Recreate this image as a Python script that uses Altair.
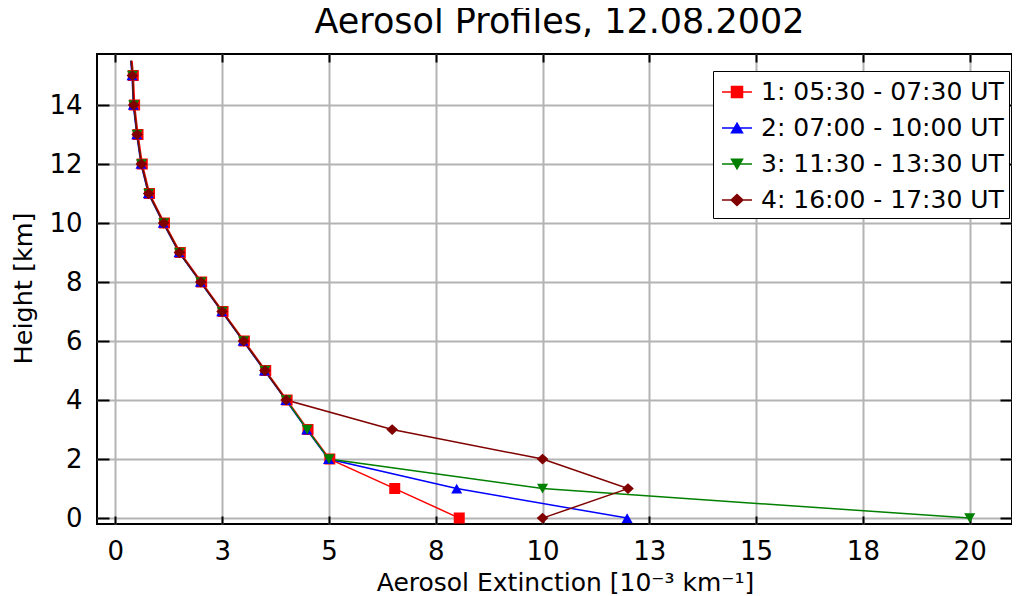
import altair as alt
import pandas as pd

# ---- data ----
series = ["1: 05:30 - 07:30 UT", "2: 07:00 - 10:00 UT",
          "3: 11:30 - 13:30 UT", "4: 16:00 - 17:30 UT"]
colors = ["#ff0000", "#0000ff", "#008000", "#800000"]
marker_sizes = [900, 900, 900, 900]

heights = [15.5, 15, 14, 13, 12, 11, 10, 9, 8, 7, 6, 5, 4, 3, 2, 1, 0]
has_marker = [False] + [True] * 16

ext_1 = [0.39, 0.42, 0.45, 0.53, 0.63, 0.80, 1.15, 1.52, 2.02, 2.52, 3.02, 3.52, 4.02, 4.51, 5.02, 6.54, 8.05]
ext_2 = [0.36, 0.39, 0.42, 0.50, 0.60, 0.77, 1.12, 1.49, 1.99, 2.49, 2.99, 3.49, 3.99, 4.48, 4.99, 7.99, 11.98]
ext_3 = [0.37, 0.40, 0.43, 0.51, 0.61, 0.78, 1.13, 1.50, 2.00, 2.50, 3.00, 3.50, 4.00, 4.49, 5.00, 10.00, 20.00]
ext_4 = [0.37, 0.40, 0.43, 0.51, 0.61, 0.78, 1.13, 1.50, 2.00, 2.50, 3.00, 3.50, 4.00, 6.48, 10.00, 12.00, 10.00]

x_ticks = [0, 2.5, 5, 7.5, 10, 12.5, 15, 17.5, 20]
y_ticks = [0, 2, 4, 6, 8, 10, 12, 14]

title_text = "Aerosol Profiles, 12.08.2002"
x_title = "Aerosol Extinction [10\u207b\u00b3 km\u207b\u00b9]"
y_title = "Height [km]"

rows = []
for s, ext in zip(series, [ext_1, ext_2, ext_3, ext_4]):
    for h, e, m in zip(heights, ext, has_marker):
        rows.append({"series": s, "height": h, "ext": e, "marker": m})
df = pd.DataFrame(rows)

FONT = "DejaVu Sans"

# marker shapes: a zero-area line segment (only visible when stroked, i.e. in
# the legend) plus the filled marker
shape_paths = [
    "M-1,0H1M-0.367,-0.367H0.367V0.367H-0.367Z",
    "M-1,0H1M0,-0.32L0.367,0.32H-0.367Z",
    "M-1,0H1M0,0.32L0.367,-0.32H-0.367Z",
    "M-1,0H1M-0.39,0L0,-0.36L0.39,0L0,0.36Z",
]

xscale = alt.Scale(domain=[-0.43, 20.99], nice=False, zero=False)
yscale = alt.Scale(domain=[-0.2, 15.73], nice=False, zero=False)
color_scale = alt.Scale(domain=series, range=colors)
shape_scale = alt.Scale(domain=series, range=shape_paths)
size_scale = alt.Scale(domain=series, range=marker_sizes)


def make_legend():
    return alt.Legend(
        title=None, orient="none", legendX=616, legendY=17,
        padding=5, fillColor="white", strokeColor="black",
        cornerRadius=0,
        labelFont=FONT, labelFontSize=25, labelColor="black", labelLimit=600,
        labelOffset=8, symbolOffset=3, symbolSize=900, rowPadding=7,
        symbolStrokeWidth=1.5, symbolOpacity=1,
    )


x_main_axis = alt.Axis(
    values=x_ticks, labelExpr="format(round(datum.value), 'd')",
    grid=True, gridColor="#b4b4b4", gridWidth=2, domain=False,
    ticks=False, tickSize=0, labelFlush=False,
    labelFont=FONT, labelFontSize=26, labelColor="black",
    labelPadding=35, labelBaseline="alphabetic",
    title=x_title, titleFont=FONT, titleFontSize=25, titleFontWeight="normal",
    titleColor="black", titleX=468, titleY=66, titleBaseline="alphabetic",
    titleAlign="center",
)
y_main_axis = alt.Axis(
    values=y_ticks, grid=True, gridColor="#b4b4b4", gridWidth=2, domain=False,
    ticks=False, tickSize=0, labelFlush=False,
    labelFont=FONT, labelFontSize=26, labelColor="black", labelPadding=15,
    title=y_title, titleFont=FONT, titleFontSize=25.5, titleFontWeight="normal",
    titleColor="black", titleX=-66, titleY=234, titleBaseline="alphabetic",
    titleAlign="center",
)


def tick_axis(orient, values, size):
    return alt.Axis(orient=orient, values=values, offset=-size, tickSize=size,
                    tickWidth=2, tickColor="black", labels=False, domain=False,
                    grid=False, title=None)


lines = alt.Chart(df).mark_line(strokeWidth=1.5).encode(
    x=alt.X("ext:Q", scale=xscale, axis=x_main_axis),
    y=alt.Y("height:Q", scale=yscale, axis=y_main_axis),
    color=alt.Color("series:N", scale=color_scale, legend=make_legend()),
    order=alt.Order("height:Q", sort="descending"),
)

points = alt.Chart(df).transform_filter("datum.marker").mark_point(
    filled=True, opacity=1
).encode(
    x=alt.X("ext:Q", scale=xscale, axis=x_main_axis),
    y=alt.Y("height:Q", scale=yscale, axis=y_main_axis),
    color=alt.Color("series:N", scale=color_scale, legend=make_legend()),
    stroke=alt.Stroke("series:N", scale=color_scale, legend=make_legend()),
    shape=alt.Shape("series:N", scale=shape_scale, legend=make_legend()),
    size=alt.Size("series:N", scale=size_scale, legend=None),
    strokeWidth=alt.value(0),
)

ticks_bl = alt.Chart(df).mark_point(opacity=0).encode(
    x=alt.X("ext:Q", scale=xscale, axis=tick_axis("bottom", x_ticks, 8)),
    y=alt.Y("height:Q", scale=yscale, axis=tick_axis("left", y_ticks, 12)),
)
ticks_tr = alt.Chart(df).mark_point(opacity=0).encode(
    x=alt.X("ext:Q", scale=xscale, axis=tick_axis("top", x_ticks, 8)),
    y=alt.Y("height:Q", scale=yscale, axis=tick_axis("right", y_ticks, 12)),
)

chart = alt.layer(
    alt.layer(lines, points), ticks_bl, ticks_tr
).resolve_axis(x="independent", y="independent").properties(
    width=915, height=470,
    padding={"left": 89, "top": 46, "right": 0, "bottom": 72},
    autosize=alt.AutoSizeParams(type="none"),
    background="white",
    title=alt.TitleParams(title_text, font=FONT, fontSize=35, fontWeight="normal",
                          color="black", baseline="alphabetic", offset=13,
                          anchor="middle", dx=5, dy=28),
).configure_view(stroke="black", strokeWidth=2).configure_legend(strokeWidth=1)

chart.save("out.html", embed_options={"renderer": "svg", "actions": False})
